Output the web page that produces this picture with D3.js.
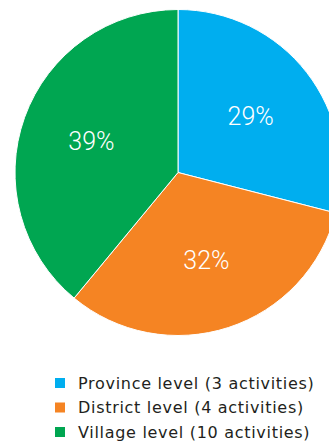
<!DOCTYPE html>
<html>
<head>
<meta charset="utf-8">
<script src="https://cdn.jsdelivr.net/npm/d3@7"></script>
<style>
    html, body { margin: 0; padding: 0; background: #fff; }
    svg { display: block; }
</style>
</head>
<body>
<div id="chart"></div>
<script>
var categories = ['Province level (3 activities)', 'District level (4 activities)', 'Village level (10 activities)'];
var values = [29, 32, 39];
var labels = ['29%', '32%', '39%'];
var colors = ['#00aeef', '#f58423', '#00a651'];

var width = 329, height = 445;
var cx = 178, cy = 172.5, radius = 163;

var svg = d3.select('#chart').append('svg')
    .attr('width', width)
    .attr('height', height);

var g = svg.append('g').attr('transform', 'translate(' + cx + ',' + cy + ')');

var pie = d3.pie().sort(null).value(function (d) { return d; });
var arcs = pie(values);

var arc = d3.arc().innerRadius(0).outerRadius(radius);
var labelArc = d3.arc().innerRadius(92).outerRadius(92);

g.selectAll('path')
    .data(arcs)
    .enter().append('path')
    .attr('d', arc)
    .attr('fill', function (d, i) { return colors[i]; })
    .attr('stroke', '#fff')
    .attr('stroke-width', 1);

g.selectAll('text')
    .data(arcs)
    .enter().append('text')
    .attr('transform', function (d) { return 'translate(' + labelArc.centroid(d) + ')'; })
    .attr('text-anchor', 'middle')
    .attr('dy', '0.36em')
    .style('font-family', 'Roboto, "Liberation Sans", sans-serif')
    .style('font-weight', 300)
    .style('font-size', '25px')
    .style('fill', '#fff')
    .text(function (d, i) { return labels[i]; });

/* legend */
var legend = svg.append('g').attr('transform', 'translate(55,383)');
var rows = legend.selectAll('g')
    .data(categories)
    .enter().append('g')
    .attr('transform', function (d, i) { return 'translate(0,' + (i * 24.5) + ')'; });

rows.append('rect')
    .attr('x', 0).attr('y', -5)
    .attr('width', 10).attr('height', 10)
    .attr('fill', function (d, i) { return colors[i]; });

rows.append('text')
    .attr('x', 23)
    .attr('dy', '0.36em')
    .style('font-family', '"DejaVu Sans", sans-serif')
    .style('font-size', '16px')
    .style('letter-spacing', '0.7px')
    .style('fill', '#231f20')
    .text(function (d) { return d; });
</script>
</body>
</html>
